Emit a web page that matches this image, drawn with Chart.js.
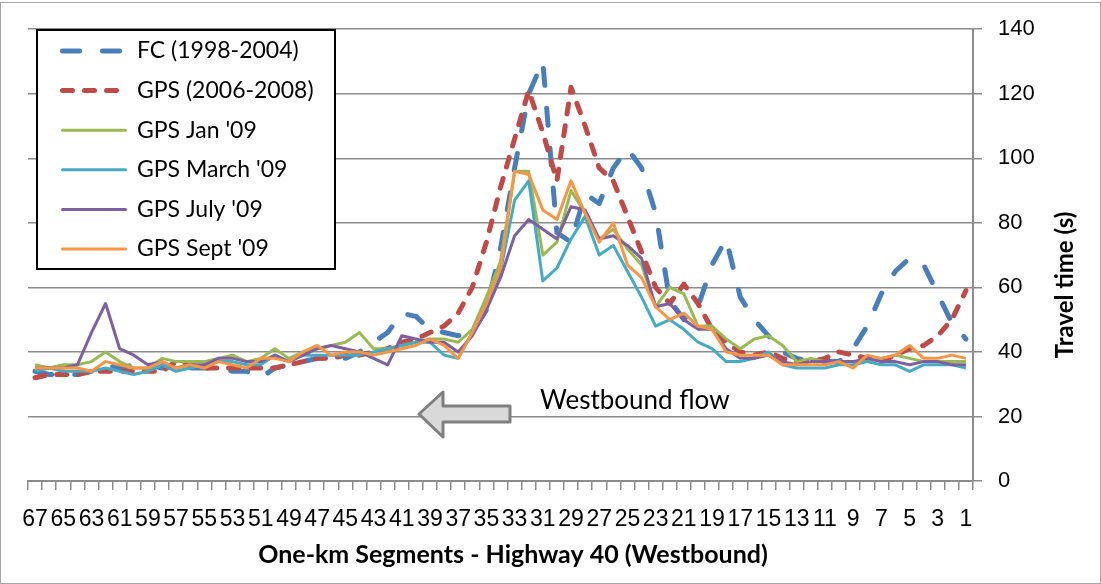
<!DOCTYPE html>
<html>
<head>
<meta charset="utf-8">
<script src="https://cdn.jsdelivr.net/npm/chart.js@4.4.1/dist/chart.umd.min.js"></script>
<style>
  html, body { margin: 0; padding: 0; background: #fff; }
  #wrap { width: 1101px; height: 584px; }
</style>
</head>
<body>
<div id="wrap"><canvas id="travelChart" width="1101" height="584"></canvas></div>
<script>
// One-km segments, westbound order (67 -> 1)
const segments = [67, 66, 65, 64, 63, 62, 61, 60, 59, 58, 57, 56, 55, 54, 53, 52, 51, 50, 49, 48,
  47, 46, 45, 44, 43, 42, 41, 40, 39, 38, 37, 36, 35, 34, 33, 32, 31, 30, 29, 28,
  27, 26, 25, 24, 23, 22, 21, 20, 19, 18, 17, 16, 15, 14, 13, 12, 11, 10, 9, 8,
  7, 6, 5, 4, 3, 2, 1];

// Travel time (s) per segment
const fc9804 = [34, 33, 33, 33, 34, 36, 35, 36, 36, 35, 36, 35, 35, 35, 34, 34, 32, 35, 36, 37,
  38, 38, 38, 40, 43, 46, 52, 51, 47, 46, 45, 46, 53, 72, 97, 120, 130, 77, 74, 89,
  86, 97, 103, 97, 83, 56, 50, 54, 67, 75, 57, 50, 45, 40, 38, 37, 37, 37, 41, 48,
  58, 65, 69, 67, 58, 49, 44];
const gps0608 = [32, 33, 33, 33, 34, 34, 34, 34, 34, 34, 37, 36, 35, 35, 35, 35, 35, 35, 36, 37,
  38, 38, 39, 39, 40, 41, 43, 44, 46, 48, 52, 60, 74, 91, 106, 121, 108, 93, 122, 110,
  97, 93, 82, 71, 60, 55, 61, 55, 47, 43, 40, 39, 40, 38, 37, 37, 38, 40, 39, 38,
  37, 39, 41, 42, 45, 50, 59];
const gpsJan09 = [36, 35, 36, 36, 37, 40, 37, 35, 35, 38, 37, 37, 37, 38, 39, 37, 38, 41, 38, 40,
  41, 42, 43, 46, 41, 41, 42, 43, 44, 44, 43, 47, 57, 68, 96, 96, 70, 74, 90, 83,
  75, 78, 72, 67, 54, 60, 58, 48, 48, 44, 41, 44, 45, 42, 37, 38, 37, 37, 37, 37,
  38, 39, 38, 37, 37, 37, 37];
const gpsMar09 = [34, 35, 34, 34, 34, 35, 34, 33, 34, 36, 34, 35, 36, 37, 37, 36, 36, 39, 37, 39,
  39, 39, 39, 39, 40, 41, 42, 43, 43, 39, 38, 46, 55, 65, 87, 93, 62, 66, 75, 82,
  70, 73, 65, 57, 48, 50, 47, 43, 41, 37, 37, 38, 40, 36, 35, 35, 35, 36, 36, 37,
  36, 36, 34, 36, 36, 36, 35];
const gpsJul09 = [35, 35, 35, 36, 46, 55, 41, 39, 36, 37, 35, 36, 36, 38, 38, 37, 37, 39, 37, 39,
  41, 42, 41, 40, 38, 36, 45, 44, 43, 43, 40, 45, 53, 63, 76, 81, 78, 75, 85, 84,
  75, 76, 73, 69, 54, 55, 50, 47, 47, 41, 38, 38, 39, 37, 36, 37, 37, 37, 37, 38,
  37, 37, 36, 37, 37, 36, 36];
const gpsSep09 = [35, 35, 35, 35, 34, 37, 36, 35, 35, 37, 35, 36, 35, 37, 36, 35, 38, 38, 37, 40,
  42, 39, 40, 40, 39, 40, 41, 42, 44, 42, 38, 46, 55, 66, 96, 95, 84, 81, 93, 83,
  74, 80, 67, 63, 54, 50, 52, 48, 47, 40, 39, 39, 39, 36, 36, 36, 36, 37, 35, 39,
  38, 39, 42, 38, 38, 39, 38];

const yTicks = [0, 20, 40, 60, 80, 100, 120, 140];

const FONT = 'Lato, "Liberation Sans", sans-serif';
const TICK_FONT = '"Liberation Sans", Arial, sans-serif';

// Outer frame, legend box, axis titles and the flow arrow
const decorPlugin = {
  id: 'decor',
  beforeDraw(chart) {
    const ctx = chart.ctx;
    ctx.save();
    ctx.fillStyle = '#ffffff';
    ctx.fillRect(0, 0, chart.width, chart.height);
    ctx.restore();
  },
  afterDraw(chart) {
    const ctx = chart.ctx;
    ctx.save();

    // chart frame
    ctx.strokeStyle = '#a6a6a6';
    ctx.lineWidth = 1;
    ctx.strokeRect(0.5, 2.5, chart.width - 1, chart.height - 3);

    // legend
    ctx.fillStyle = '#ffffff';
    ctx.fillRect(37, 30, 298, 239);
    ctx.strokeStyle = '#000000';
    ctx.lineWidth = 2;
    ctx.strokeRect(37, 30, 298, 239);
    chart.data.datasets.forEach((ds, k) => {
      const y = 51 + k * 39.6;
      ctx.beginPath();
      ctx.strokeStyle = ds.borderColor;
      ctx.lineWidth = ds.borderWidth;
      ctx.lineCap = 'round';
      ctx.setLineDash(ds.borderDash || []);
      ctx.moveTo(62.5, y);
      ctx.lineTo(125.5, y);
      ctx.stroke();
      ctx.setLineDash([]);
      ctx.fillStyle = '#000';
      ctx.font = '23px ' + FONT;
      ctx.textAlign = 'left';
      ctx.textBaseline = 'middle';
      ctx.fillText(ds.label, 137, y);
    });

    // axis titles
    ctx.fillStyle = '#000';
    ctx.font = 'bold 25px ' + FONT;
    ctx.textAlign = 'center';
    ctx.textBaseline = 'middle';
    ctx.fillText('One-km Segments - Highway 40 (Westbound)', 513, 555);
    ctx.save();
    ctx.translate(1065, 285);
    ctx.rotate(-Math.PI / 2);
    ctx.font = 'bold 24px ' + FONT;
    ctx.fillText('Travel time (s)', 0, 0);
    ctx.restore();

    // westbound arrow
    ctx.beginPath();
    ctx.moveTo(419, 414);
    ctx.lineTo(443, 392);
    ctx.lineTo(443, 406);
    ctx.lineTo(510, 406);
    ctx.lineTo(510, 422);
    ctx.lineTo(443, 422);
    ctx.lineTo(443, 437);
    ctx.closePath();
    ctx.fillStyle = '#d9d9d9';
    ctx.fill();
    ctx.strokeStyle = '#7f7f7f';
    ctx.lineWidth = 3;
    ctx.lineJoin = 'round';
    ctx.stroke();
    ctx.fillStyle = '#000';
    ctx.font = '26px ' + FONT;
    ctx.textAlign = 'left';
    ctx.fillText('Westbound flow', 540, 401);

    ctx.restore();
  }
};

function makeSeries(label, data, color, width, dash, order) {
  return {
    label: label,
    data: data,
    borderColor: color,
    backgroundColor: color,
    borderWidth: width,
    borderDash: dash,
    borderCapStyle: dash.length ? 'round' : 'butt',
    borderJoinStyle: 'round',
    pointRadius: 0,
    tension: 0,
    fill: false,
    order: order
  };
}

const ctx = document.getElementById('travelChart');
const travelChart = new Chart(ctx, {
  type: 'line',
  data: {
    labels: segments,
    datasets: [
      makeSeries('FC (1998-2004)', fc9804, '#4a7ebb', 5, [17, 23], 6),
      makeSeries('GPS (2006-2008)', gps0608, '#be4b48', 5, [10, 12], 5),
      makeSeries('GPS Jan \'09', gpsJan09, '#98b954', 3, [], 4),
      makeSeries('GPS March \'09', gpsMar09, '#46aac5', 3, [], 3),
      makeSeries('GPS July \'09', gpsJul09, '#7d60a0', 3, [], 2),
      makeSeries('GPS Sept \'09', gpsSep09, '#f79646', 3, [], 1)
    ]
  },
  options: {
    responsive: false,
    animation: false,
    layout: { padding: { left: 28, top: 27, right: 0, bottom: 0 } },
    plugins: {
      legend: { display: false },
      tooltip: { enabled: false }
    },
    scales: {
      x: {
        offset: true,
        grid: {
          offset: true,
          drawOnChartArea: false,
          drawTicks: true,
          tickLength: 9,
          color: '#8c8c8c',
          lineWidth: 1.5
        },
        border: { display: true, color: '#8c8c8c', width: 2 },
        ticks: {
          autoSkip: false,
          maxRotation: 0,
          minRotation: 0,
          padding: 16,
          color: '#000',
          font: { family: TICK_FONT, size: 23 },
          callback: (v, i) => (i % 2 === 0 ? String(segments[i]) : '')
        },
        afterFit: (scale) => { scale.height = 103; }
      },
      y: {
        position: 'right',
        min: yTicks[0],
        max: yTicks[yTicks.length - 1],
        afterBuildTicks: (scale) => { scale.ticks = yTicks.map(v => ({ value: v })); },
        grid: {
          color: '#8c8c8c',
          lineWidth: 1.5,
          tickLength: 9
        },
        border: { display: true, color: '#8c8c8c', width: 2 },
        ticks: {
          padding: 16,
          color: '#000',
          font: { family: TICK_FONT, size: 22 }
        },
        afterFit: (scale) => { scale.width = 128; }
      }
    }
  },
  plugins: [decorPlugin]
});
</script>
</body>
</html>
